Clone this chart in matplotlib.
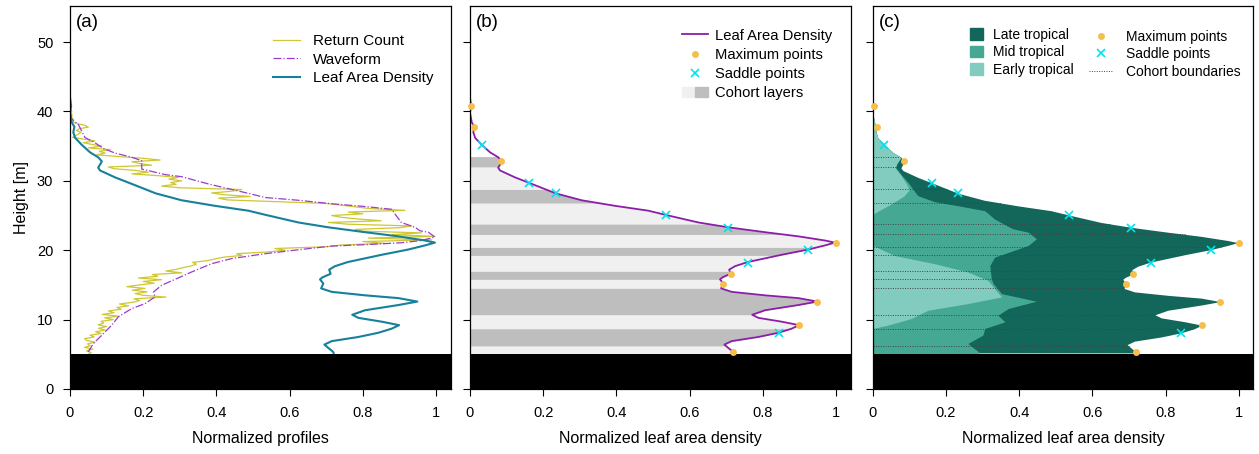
import numpy as np
import matplotlib
matplotlib.use("Agg")
import matplotlib.pyplot as plt
from matplotlib.patches import Patch
from matplotlib.lines import Line2D
from matplotlib.legend_handler import HandlerTuple

plt.rcParams['font.family'] = ['Liberation Sans', 'DejaVu Sans']

# leaf area density profile, normalized (height [m], value)
lad_h = [5.2, 5.4, 5.9, 6.4, 6.9, 7.5, 8.1, 8.7, 9.2, 9.7, 10.25, 10.7, 11.35, 12.1,
         12.6, 13.1, 13.5, 14.0, 14.5, 15.2, 15.8, 16.1, 16.6, 17.2, 17.7, 18.3,
         19.35, 20.1, 20.7, 21.1, 21.4, 22.0, 22.6, 23.3, 24.0, 25.1, 25.7, 26.4,
         27.2, 28.2, 29.7, 30.5, 31.5, 31.9, 32.8, 33.4, 34.1, 35.2, 36.2, 37.0,
         37.8, 38.4, 39.8, 40.8, 42.0]
lad_v = [0.72, 0.718, 0.706, 0.695, 0.715, 0.788, 0.842, 0.879, 0.899, 0.852, 0.788,
         0.771, 0.806, 0.897, 0.949, 0.897, 0.806, 0.715, 0.686, 0.692, 0.683, 0.690,
         0.712, 0.708, 0.724, 0.759, 0.852, 0.924, 0.970, 0.997, 0.970, 0.897, 0.806,
         0.706, 0.624, 0.534, 0.487, 0.396, 0.305, 0.234, 0.162, 0.123, 0.082, 0.077,
         0.087, 0.077, 0.055, 0.032, 0.014, 0.009, 0.012, 0.005, 0.0, 0.003, 0.0]

# waveform profile
wave_h = [5.36, 6.56, 7.76, 9.2, 10.4, 11.6, 12.3, 13.27, 13.98, 14.94, 15.8, 16.86,
          18.06, 18.8, 19.5, 20.07, 20.6, 20.8, 21.08, 21.4, 21.9, 22.6, 22.8, 23.3,
          24.0, 25.2, 25.9, 26.3, 26.7, 27.2, 27.6, 28.2, 29.55, 30.6, 30.9, 31.7,
          32.9, 33.4, 34.0, 34.67, 35.5, 36.25, 38.1, 38.9, 40.0]
wave_v = [0.050, 0.064, 0.087, 0.114, 0.132, 0.169, 0.205, 0.232, 0.228, 0.250, 0.287,
          0.332, 0.387, 0.442, 0.533, 0.624, 0.715, 0.806, 0.906, 0.960, 0.997, 0.979,
          0.956, 0.943, 0.905, 0.888, 0.879, 0.806, 0.715, 0.624, 0.533, 0.487, 0.378,
          0.305, 0.260, 0.196, 0.196, 0.169, 0.123, 0.091, 0.068, 0.041, 0.023, 0.005,
          0.0]

# return count profile, 0.25 m bins from 5 m
rc_start, rc_step = 5.0, 0.25
rc_v = [0.050, 0.058, 0.045, 0.062, 0.040, 0.055, 0.048, 0.068,
        0.045, 0.040, 0.066, 0.055, 0.085, 0.070, 0.096, 0.078,
        0.100, 0.077, 0.092, 0.085, 0.118, 0.095, 0.132, 0.088,
        0.120, 0.105, 0.140, 0.128, 0.160, 0.135, 0.172, 0.190,
        0.175, 0.262, 0.200, 0.178, 0.210, 0.170, 0.205, 0.155,
        0.190, 0.230, 0.200, 0.250, 0.187, 0.240, 0.225, 0.305,
        0.262, 0.290, 0.310, 0.332, 0.345, 0.335, 0.375, 0.396,
        0.420, 0.470, 0.455, 0.540, 0.588, 0.560, 0.700, 0.740,
        0.860, 0.800, 0.988, 0.815, 0.997, 0.880, 0.960, 0.800,
        0.779, 0.900, 0.934, 0.760, 0.706, 0.850, 0.788, 0.740,
        0.715, 0.800, 0.760, 0.915, 0.820, 0.780, 0.740, 0.697,
        0.560, 0.430, 0.406, 0.492, 0.420, 0.387, 0.440, 0.469,
        0.300, 0.250, 0.290, 0.275, 0.305, 0.270, 0.296, 0.240,
        0.169, 0.214, 0.180, 0.120, 0.105, 0.223, 0.190, 0.169,
        0.246, 0.200, 0.132, 0.073, 0.096, 0.080, 0.110, 0.050,
        0.087, 0.060, 0.036, 0.068, 0.040, 0.007, 0.015, 0.023,
        0.030, 0.018, 0.025, 0.050, 0.041, 0.020, 0.008, 0.010,
        0.006, 0.004, 0.006, 0.003, 0.005, 0.002, 0.004, 0.0]

# maxima and saddle points of the LAD profile
max_h = [40.8, 37.8, 32.8, 21.1, 16.6, 15.2, 12.6, 9.2, 5.4]
max_v = [0.003, 0.012, 0.086, 1.0, 0.712, 0.691, 0.949, 0.899, 0.719]
sad_h = [35.2, 29.7, 28.2, 25.1, 23.2, 20.1, 18.2, 8.1]
sad_v = [0.032, 0.162, 0.234, 0.535, 0.705, 0.924, 0.760, 0.843]

# cohort boundaries (m)
cohort_edges = [5.0, 6.2, 8.7, 10.7, 14.55, 15.8, 17.0, 19.25, 20.45, 22.27,
                23.8, 26.8, 28.8, 32.0, 33.5]

# successional composition: early and early+mid cumulative edges
early_h = [5.0, 8.72, 9.2, 10.15, 11.35, 12.31, 13.27, 14.47, 15.66, 16.86, 18.06,
           19.25, 20.69, 25.2, 26.5, 27.8, 28.7, 29.5, 30.75, 31.9, 32.5, 33.2]
early_v = [0.0, 0.0, 0.041, 0.105, 0.151, 0.260, 0.352, 0.333, 0.315, 0.260, 0.169,
           0.059, 0.0, 0.0, 0.045, 0.085, 0.100, 0.093, 0.078, 0.061, 0.066, 0.075]
mid_h = [5.0, 5.36, 6.56, 7.76, 8.72, 9.68, 10.64, 11.6, 12.65, 13.75, 15.2, 15.9,
         17.8, 19.0, 20.69, 21.65, 22.6, 23.1, 24.5, 25.7, 26.44, 27.0, 27.87, 29.8,
         30.75, 31.9, 32.5, 33.2]
mid_v = [0.288, 0.289, 0.260, 0.301, 0.306, 0.361, 0.342, 0.370, 0.447, 0.352, 0.329,
         0.324, 0.320, 0.333, 0.425, 0.447, 0.425, 0.382, 0.333, 0.306, 0.230, 0.169,
         0.123, 0.096, 0.080, 0.063, 0.066, 0.075]

ground = 5.0
xlim = (0, 1.04)
ylim = (0, 55.2)

lad_h = np.array(lad_h)
lad_v = np.array(lad_v)
rc_h = rc_start + rc_step * np.arange(len(rc_v))

c_rc = '#cfc731'
c_wave = '#9b3bd0'
c_lad_a = '#17809a'
c_lad_b = '#8a1ea8'
c_max = '#f6bf4c'
c_sad = '#00e3ee'
c_late = '#12665a'
c_mid = '#44a893'
c_early = '#81ccbe'
c_band_dark = '#bebebe'
c_band_light = '#f0f0f0'
c_bound = '#444444'

fig = plt.figure(figsize=(12.59, 4.54), dpi=100)
lefts = [70 / 1259, 470 / 1259, 872.7 / 1259]
axes = [fig.add_axes([l, 1 - 389 / 454, 380.7 / 1259, 383 / 454]) for l in lefts]

for i, ax in enumerate(axes):
    ax.set_xlim(*xlim)
    ax.set_ylim(*ylim)
    ax.axhspan(0, ground, color='black', lw=0, zorder=5)
    ax.set_xticks([0, 0.2, 0.4, 0.6, 0.8, 1.0])
    ax.set_xticklabels(['0', '0.2', '0.4', '0.6', '0.8', '1'])
    ax.set_yticks(range(0, 51, 10))
    ax.tick_params(direction='out', length=5, width=0.8, labelsize=10.5, pad=7)
    if i > 0:
        ax.set_yticklabels([])
    for s in ax.spines.values():
        s.set_linewidth(0.9)
        s.set_zorder(6)
    ax.text(0.016, 0.956, '(' + 'abc'[i] + ')', transform=ax.transAxes,
            fontsize=13.5, ha='left', va='center')

# (a) normalized profiles
ax = axes[0]
ax.plot(rc_v, rc_h, color=c_rc, lw=0.9, label='Return Count')
ax.plot(wave_v, wave_h, color=c_wave, lw=0.9, ls='-.', label='Waveform')
ax.plot(lad_v, lad_h, color=c_lad_a, lw=1.5, label='Leaf Area Density')
ax.set_xlabel('Normalized profiles', fontsize=11.5, labelpad=8)
ax.set_ylabel('Height [m]', fontsize=11.5, labelpad=6)
ax.legend(loc='upper left', bbox_to_anchor=(0.533, 0.927), frameon=False,
          fontsize=11, borderpad=0, borderaxespad=0, handlelength=1.77,
          handletextpad=0.85, labelspacing=0.3)

# (b) cohort layers
ax = axes[1]
for k in range(len(cohort_edges) - 1):
    lo, hi = cohort_edges[k], cohort_edges[k + 1]
    inner = lad_h[(lad_h > lo) & (lad_h < hi)]
    ys = np.concatenate([[lo], inner, [hi]])
    xs = np.interp(ys, lad_h, lad_v)
    ax.fill_betweenx(ys, 0, xs, color=c_band_dark if k % 2 else c_band_light, lw=0)
ax.plot(np.r_[lad_v, 0], np.r_[lad_h, ylim[1]], color=c_lad_b, lw=1.3)
ax.plot(max_v, max_h, 'o', color=c_max, ms=5, mew=0, zorder=7, clip_on=False)
ax.plot(sad_v, sad_h, 'x', color=c_sad, ms=6, mew=1.2, zorder=7)
ax.set_xlabel('Normalized leaf area density', fontsize=11.5, labelpad=8)
hb = [Line2D([], [], color=c_lad_b, lw=1.3),
      Line2D([], [], ls='', marker='o', color=c_max, ms=5, mew=0),
      Line2D([], [], ls='', marker='x', color=c_sad, ms=6, mew=1.2),
      (Patch(color=c_band_light), Patch(color=c_band_dark))]
ax.legend(hb, ['Leaf Area Density', 'Maximum points', 'Saddle points', 'Cohort layers'],
          handler_map={tuple: HandlerTuple(ndivide=None, pad=0)},
          loc='upper left', bbox_to_anchor=(0.557, 0.941), frameon=False,
          fontsize=10.6, borderpad=0, borderaxespad=0, handlelength=1.77,
          handletextpad=0.48, labelspacing=0.36)

# (c) successional composition
ax = axes[2]
top = lad_h > 33.3
e_h = np.concatenate([early_h, lad_h[top]])
e_v = np.concatenate([early_v, lad_v[top]])
m_h = np.concatenate([mid_h, lad_h[top]])
m_v = np.concatenate([mid_v, lad_v[top]])
ax.fill_betweenx(lad_h, 0, lad_v, color=c_late, lw=0)
ax.fill_betweenx(m_h, 0, m_v, color=c_mid, lw=0)
ax.fill_betweenx(e_h, 0, e_v, color=c_early, lw=0)
for e in cohort_edges[1:]:
    ax.plot([0, np.interp(e, lad_h, lad_v)], [e, e], color=c_bound, lw=0.7,
            ls=(0, (1, 1.5)))
ax.plot(max_v, max_h, 'o', color=c_max, ms=5, mew=0, zorder=7, clip_on=False)
ax.plot(sad_v, sad_h, 'x', color=c_sad, ms=6, mew=1.2, zorder=7)
ax.set_xlabel('Normalized leaf area density', fontsize=11.5, labelpad=8)
leg1 = ax.legend([Patch(color=c_late), Patch(color=c_mid), Patch(color=c_early)],
                 ['Late tropical', 'Mid tropical', 'Early tropical'],
                 loc='upper left', bbox_to_anchor=(0.256, 0.943), frameon=False,
                 fontsize=10, borderpad=0, borderaxespad=0, handlelength=0.93,
                 handleheight=0.93, handletextpad=0.72, labelspacing=0.25)
ax.add_artist(leg1)
hc = [Line2D([], [], ls='', marker='o', color=c_max, ms=5, mew=0),
      Line2D([], [], ls='', marker='x', color=c_sad, ms=6, mew=1.2),
      Line2D([], [], color=c_bound, lw=0.7, ls=(0, (1, 1.5)))]
ax.legend(hc, ['Maximum points', 'Saddle points', 'Cohort boundaries'],
          loc='upper left', bbox_to_anchor=(0.568, 0.938), frameon=False,
          fontsize=10, borderpad=0, borderaxespad=0, handlelength=1.73,
          handletextpad=0.94, labelspacing=0.25)

fig.savefig('out.png', dpi=100)
